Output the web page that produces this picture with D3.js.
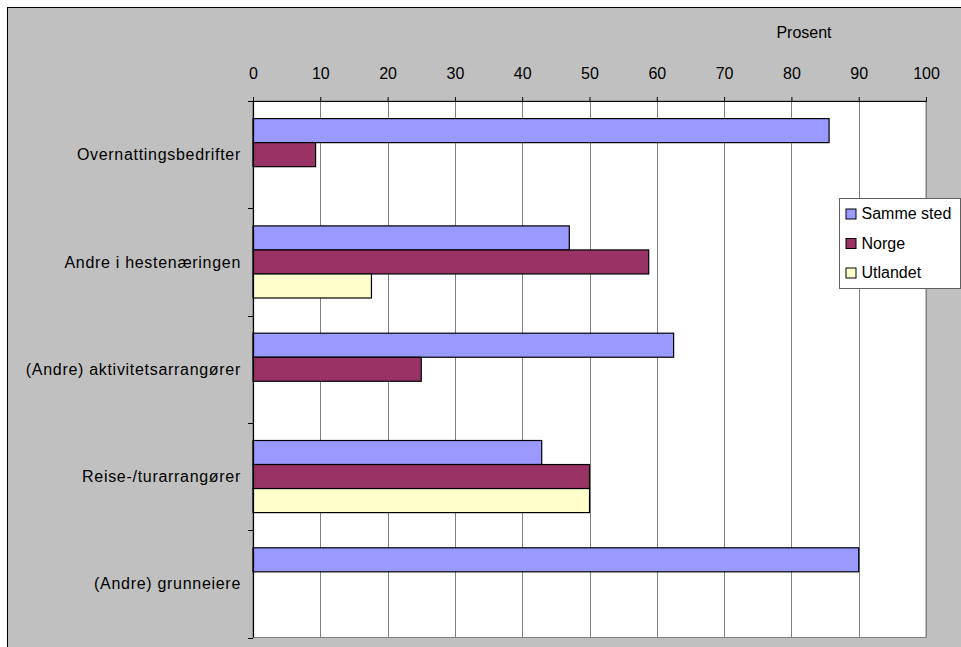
<!DOCTYPE html>
<html>
<head>
<meta charset="utf-8">
<script src="https://cdn.jsdelivr.net/npm/d3@7"></script>
<style>
  html, body { margin: 0; padding: 0; background: #ffffff; }
  svg { display: block; }
  text { font-family: "Liberation Sans", Arial, sans-serif; font-size: 16px; fill: #000; }
</style>
</head>
<body>
<svg id="chart" width="961" height="647"></svg>
<script>
// ---- data ----
const categories = ["Overnattingsbedrifter", "Andre i hestenæringen", "(Andre) aktivitetsarrangører", "Reise-/turarrangører", "(Andre) grunneiere"];
const seriesNames = ["Samme sted", "Norge", "Utlandet"];
const sammeSted = [85.6, 47.0, 62.5, 42.9, 90.0];
const norge     = [9.3, 58.8, 25.0, 50.0, 0];
const utlandet  = [0, 17.6, 0, 50.0, 0];
const xTicks = [0, 10, 20, 30, 40, 50, 60, 70, 80, 90, 100];
const axisTitle = "Prosent";

const seriesValues = [sammeSted, norge, utlandet];
const colors = ["#9999FF", "#993366", "#FFFFCC"];

const svg = d3.select("#chart");

// chart area background
svg.append("rect")
  .attr("x", 7.5).attr("y", 7.5)
  .attr("width", 1000).attr("height", 700)
  .attr("fill", "#c0c0c0").attr("stroke", "#000").attr("stroke-width", 1);

const plot = { left: 253, right: 926, top: 101, bottom: 637.5 };

const x = d3.scaleLinear().domain([0, 100]).range([plot.left, plot.right]);
const y = d3.scaleBand().domain(categories).range([plot.top, plot.bottom]).paddingInner(0).paddingOuter(0);
const bw = y.bandwidth();
const inner = d3.scaleBand().domain(seriesNames).range([17.6, bw - 17.6]).padding(0);

// plot area
svg.append("rect")
  .attr("x", plot.left).attr("y", plot.top)
  .attr("width", plot.right - plot.left).attr("height", plot.bottom - plot.top)
  .attr("fill", "#fff").attr("stroke", "#808080").attr("stroke-width", 1);

// gridlines
svg.append("g").selectAll("line")
  .data(xTicks.filter(d => d > 0))
  .join("line")
  .attr("x1", d => Math.round(x(d)) + 0.5).attr("x2", d => Math.round(x(d)) + 0.5)
  .attr("y1", plot.top).attr("y2", plot.bottom)
  .attr("stroke", "#808080").attr("stroke-width", 1);

// bars
const rows = [];
categories.forEach((c, i) => {
  seriesNames.forEach((s, j) => {
    const v = seriesValues[j][i];
    if (v > 0) rows.push({ c, s, v, j });
  });
});
svg.append("g").selectAll("rect")
  .data(rows)
  .join("rect")
  .attr("x", x(0))
  .attr("y", d => y(d.c) + inner(d.s))
  .attr("width", d => x(d.v) - x(0))
  .attr("height", inner.bandwidth())
  .attr("fill", d => colors[d.j])
  .attr("stroke", "#000").attr("stroke-width", 1.2);

// top axis
const xAxis = d3.axisTop(x).tickValues(xTicks).tickSize(4).tickPadding(18).tickFormat(d3.format("d"));
const gx = svg.append("g").attr("transform", `translate(0,${plot.top})`).call(xAxis);
gx.select(".domain").attr("stroke", "#000");
gx.selectAll(".tick line").attr("stroke", "#000");
gx.selectAll("text").style("font-family", '"Liberation Sans", Arial, sans-serif').style("font-size", "16px").attr("fill", "#000");

// left axis (category separators)
const gy = svg.append("g");
gy.append("line")
  .attr("x1", plot.left + 0.5).attr("x2", plot.left + 0.5)
  .attr("y1", plot.top).attr("y2", plot.bottom)
  .attr("stroke", "#000").attr("stroke-width", 1.2);
const seps = categories.map(c => y(c)).concat([plot.bottom]);
gy.selectAll("line.sep").data(seps).join("line").attr("class", "sep")
  .attr("x1", plot.left - 5).attr("x2", plot.left)
  .attr("y1", d => Math.round(d) + 0.5).attr("y2", d => Math.round(d) + 0.5)
  .attr("stroke", "#000");
gy.selectAll("text").data(categories).join("text")
  .attr("x", 241)
  .attr("y", d => y(d) + bw / 2)
  .attr("dy", "0.35em")
  .attr("text-anchor", "end")
  .style("letter-spacing", "0.7px")
  .text(d => d);

// axis title
svg.append("text").attr("x", 804).attr("y", 38).attr("text-anchor", "middle").text(axisTitle);

// legend
const lg = svg.append("g").attr("transform", "translate(839.5,198.5)");
lg.append("rect").attr("width", 121).attr("height", 90)
  .attr("fill", "#fff").attr("stroke", "#606060").attr("stroke-width", 1);
const items = lg.selectAll("g.item").data(seriesNames).join("g").attr("class", "item")
  .attr("transform", (d, i) => `translate(0,${15 + i * 29.5})`);
items.append("rect").attr("x", 6.5).attr("y", -4.5).attr("width", 10).attr("height", 10)
  .attr("fill", (d, i) => colors[i]).attr("stroke", "#000");
items.append("text").attr("x", 22).attr("y", 0).attr("dy", "0.35em").text(d => d);
</script>
</body>
</html>
